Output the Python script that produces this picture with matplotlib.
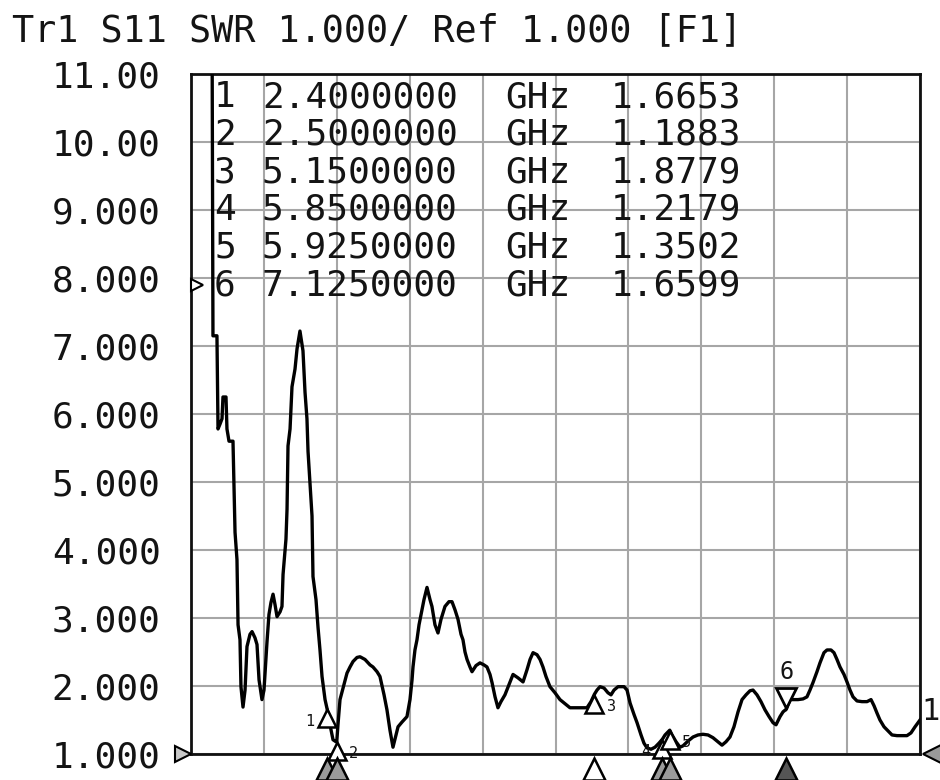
import matplotlib
matplotlib.use("Agg")
import matplotlib.pyplot as plt
from matplotlib.transforms import offset_copy

# ---------------- data ----------------
title_text = "Tr1 S11 SWR 1.000/ Ref 1.000 [F1]"

freq_ghz = [
    1.000, 1.216, 1.226, 1.267, 1.278, 1.298, 1.319, 1.329, 1.360, 1.370,
    1.391, 1.432, 1.453, 1.473, 1.484, 1.504, 1.514, 1.535, 1.556, 1.576,
    1.607, 1.628, 1.658, 1.679, 1.700, 1.730, 1.751, 1.782, 1.802, 1.823,
    1.844, 1.864, 1.885, 1.916, 1.936, 1.947, 1.977, 1.988, 1.998, 2.019,
    2.039, 2.070, 2.091, 2.121, 2.142, 2.152, 2.173, 2.193, 2.204, 2.235,
    2.245, 2.255, 2.286, 2.307, 2.327, 2.348, 2.379, 2.400, 2.430, 2.461,
    2.492, 2.500, 2.512, 2.533, 2.574, 2.605, 2.636, 2.667, 2.708, 2.739,
    2.790, 2.842, 2.872, 2.914, 2.944, 2.986, 3.016, 3.047, 3.078, 3.109,
    3.130, 3.171, 3.222, 3.253, 3.274, 3.284, 3.304, 3.325, 3.346, 3.376,
    3.397, 3.428, 3.459, 3.479, 3.510, 3.541, 3.572, 3.613, 3.654, 3.685,
    3.716, 3.747, 3.778, 3.798, 3.819, 3.840, 3.870, 3.891, 3.932, 3.973,
    4.014, 4.045, 4.076, 4.097, 4.128, 4.158, 4.189, 4.230, 4.272, 4.313,
    4.364, 4.416, 4.457, 4.488, 4.519, 4.560, 4.591, 4.621, 4.652, 4.693,
    4.745, 4.796, 4.848, 4.899, 4.951, 5.002, 5.074, 5.115, 5.150, 5.177,
    5.208, 5.249, 5.290, 5.321, 5.352, 5.393, 5.455, 5.486, 5.517, 5.558,
    5.589, 5.630, 5.660, 5.691, 5.733, 5.774, 5.815, 5.850, 5.877, 5.925,
    5.949, 5.990, 6.031, 6.062, 6.113, 6.165, 6.216, 6.267, 6.319, 6.370,
    6.421, 6.463, 6.504, 6.545, 6.586, 6.628, 6.669, 6.710, 6.751, 6.782,
    6.823, 6.864, 6.905, 6.947, 6.988, 7.019, 7.060, 7.091, 7.125, 7.162,
    7.204, 7.245, 7.296, 7.337, 7.368, 7.399, 7.440, 7.471, 7.512, 7.543,
    7.584, 7.615, 7.646, 7.677, 7.718, 7.749, 7.780, 7.811, 7.852, 7.903,
    7.955, 7.996, 8.027, 8.058, 8.088, 8.130, 8.171, 8.212, 8.263, 8.315,
    8.366, 8.407, 8.449, 8.479, 8.500,
]

swr_values = [
    12.5, 12.0, 7.15, 7.15, 5.78, 5.85, 5.93, 6.25, 6.25, 5.78,
    5.60, 5.60, 4.26, 3.86, 2.90, 2.68, 1.99, 1.69, 1.94, 2.58,
    2.76, 2.80, 2.71, 2.61, 2.09, 1.80, 1.94, 2.65, 3.05, 3.23,
    3.35, 3.20, 3.02, 3.09, 3.17, 3.64, 4.16, 4.60, 5.53, 5.78,
    6.40, 6.66, 6.96, 7.22, 7.03, 6.93, 6.32, 5.93, 5.45, 4.75,
    4.50, 3.61, 3.27, 2.86, 2.53, 2.14, 1.80, 1.665, 1.43, 1.21,
    1.18, 1.188, 1.43, 1.80, 2.02, 2.19, 2.28, 2.36, 2.42, 2.43,
    2.39, 2.31, 2.28, 2.21, 2.14, 1.87, 1.65, 1.35, 1.10, 1.28,
    1.40, 1.47, 1.55, 1.80, 2.09, 2.28, 2.53, 2.68, 2.90, 3.12,
    3.27, 3.45, 3.27, 3.17, 2.90, 2.78, 2.98, 3.17, 3.24, 3.24,
    3.12, 2.98, 2.76, 2.68, 2.50, 2.39, 2.28, 2.21, 2.30, 2.34,
    2.31, 2.28, 2.17, 2.05, 1.84, 1.68, 1.77, 1.87, 2.02, 2.17,
    2.12, 2.06, 2.24, 2.39, 2.49, 2.46, 2.39, 2.28, 2.14, 1.99,
    1.90, 1.80, 1.74, 1.68, 1.68, 1.68, 1.68, 1.77, 1.878, 1.94,
    1.99, 1.97, 1.90, 1.87, 1.94, 1.99, 1.99, 1.94, 1.75, 1.58,
    1.46, 1.28, 1.16, 1.09, 1.07, 1.10, 1.16, 1.218, 1.28, 1.350,
    1.28, 1.18, 1.10, 1.12, 1.19, 1.25, 1.28, 1.29, 1.28, 1.24,
    1.18, 1.13, 1.18, 1.25, 1.40, 1.62, 1.80, 1.87, 1.93, 1.94,
    1.87, 1.77, 1.65, 1.55, 1.46, 1.43, 1.55, 1.62, 1.660, 1.80,
    1.80, 1.80, 1.81, 1.84, 1.94, 2.05, 2.21, 2.34, 2.49, 2.53,
    2.53, 2.49, 2.39, 2.28, 2.17, 2.06, 1.94, 1.84, 1.78, 1.77,
    1.77, 1.80, 1.71, 1.60, 1.50, 1.40, 1.34, 1.28, 1.27, 1.27,
    1.27, 1.31, 1.40, 1.46, 1.50,
]
assert len(freq_ghz) == len(swr_values), (len(freq_ghz), len(swr_values))

marker_ids = [1, 2, 3, 4, 5, 6]
marker_freq_ghz = [2.4, 2.5, 5.15, 5.85, 5.925, 7.125]
marker_swr = [1.6653, 1.1883, 1.8779, 1.2179, 1.3502, 1.6599]
marker_freq_text = ["2.4000000", "2.5000000", "5.1500000", "5.8500000", "5.9250000", "7.1250000"]
marker_swr_text = ["1.6653", "1.1883", "1.8779", "1.2179", "1.3502", "1.6599"]
active_marker = 6

y_ticks = [1, 2, 3, 4, 5, 6, 7, 8, 9, 10, 11]
y_tick_labels = ["1.000", "2.000", "3.000", "4.000", "5.000", "6.000",
                 "7.000", "8.000", "9.000", "10.00", "11.00"]
x_start, x_stop, x_divisions = 1.0, 8.5, 10

# ---------------- figure ----------------
W, H = 940, 780
fig = plt.figure(figsize=(W / 100, H / 100), dpi=100)
fig.patch.set_facecolor("white")
MONO = "DejaVu Sans Mono"
TXT = "#141414"
FS = 26


def fx(px):
    return px / W


def fy(py):
    return 1 - py / H


L, R, T, B = 191, 920, 74, 754
ax = fig.add_axes([fx(L), fy(B), (R - L) / W, (B - T) / H])
ax.set_xlim(x_start, x_stop)
ax.set_ylim(y_ticks[0], y_ticks[-1])
step = (x_stop - x_start) / x_divisions
ax.set_xticks([x_start + i * step for i in range(x_divisions + 1)])
ax.set_xticklabels([])
ax.set_yticks(y_ticks)
ax.set_yticklabels(y_tick_labels, family=MONO, fontsize=FS, color=TXT)
ax.tick_params(axis="both", length=0, pad=22)
ax.grid(True, color="#a6a6a6", lw=1.5)
ax.set_axisbelow(True)
for sp in ax.spines.values():
    sp.set_linewidth(2.0)
    sp.set_color("#101010")

# trace
ax.plot(freq_ghz, swr_values, color="#000000", lw=2.4, zorder=3)

# marker flags on the trace
side_offsets = {1: (-9, "right"), 2: (9, "left"), 3: (9, "left"),
                4: (-9, "right"), 5: (9, "left")}
for mid, mf, ms_ in zip(marker_ids, marker_freq_ghz, marker_swr):
    if mid == active_marker:
        tr = offset_copy(ax.transData, fig=fig, x=0, y=8, units="points")
        ax.plot([mf], [ms_], marker="v", ms=15, mfc="white", mec="black",
                mew=2.0, transform=tr, zorder=5, clip_on=False)
        trt = offset_copy(ax.transData, fig=fig, x=0, y=27, units="points")
        ax.text(mf, ms_, str(mid), transform=trt, ha="center", va="center",
                family=MONO, fontsize=17, color=TXT, zorder=6)
    else:
        tr = offset_copy(ax.transData, fig=fig, x=0, y=-7, units="points")
        ax.plot([mf], [ms_], marker="^", ms=13, mfc="white", mec="black",
                mew=1.8, transform=tr, zorder=4, clip_on=False)
        dx, ha = side_offsets[mid]
        trt = offset_copy(ax.transData, fig=fig, x=dx, y=-9, units="points")
        ax.text(mf, ms_, str(mid), transform=trt, ha=ha, va="center",
                family=MONO, fontsize=11, color=TXT, zorder=4)

# marker triangles below the x axis
for mid, mf in zip(marker_ids, marker_freq_ghz):
    trb = offset_copy(ax.transData, fig=fig, x=0, y=-11, units="points")
    if mid == active_marker:
        face = "#555555"
    elif mid == 3:
        face = "white"
    else:
        face = "#9a9a9a"
    ax.plot([mf], [y_ticks[0]], marker="^", ms=16, mfc=face, mec="black",
            mew=1.8, transform=trb, zorder=6, clip_on=False)

# reference level indicators
trl = offset_copy(ax.transData, fig=fig, x=-6, y=0, units="points")
ax.plot([x_start], [y_ticks[0]], marker=">", ms=11, mfc="#c8c8c8", mec="black",
        mew=1.5, transform=trl, clip_on=False, zorder=6)
trr = offset_copy(ax.transData, fig=fig, x=10, y=0, units="points")
ax.plot([x_stop], [y_ticks[0]], marker="<", ms=16, mfc="#9a9a9a", mec="black",
        mew=1.5, transform=trr, clip_on=False, zorder=6)

# title
fig.text(fx(12), fy(31), title_text, family=MONO, fontsize=26.5, color=TXT,
         ha="left", va="center")

# marker table
row_y = [97, 134.6, 172.2, 209.8, 247.4, 285]
for mid, ftxt, vtxt, yy in zip(marker_ids, marker_freq_text, marker_swr_text, row_y):
    fig.text(fx(225), fy(yy), str(mid), family=MONO, fontsize=FS, color=TXT,
             ha="center", va="center", zorder=7)
    fig.text(fx(262), fy(yy), ftxt, family=MONO, fontsize=FS, color=TXT,
             ha="left", va="center")
    fig.text(fx(505), fy(yy), "GHz", family=MONO, fontsize=FS, color=TXT,
             ha="left", va="center")
    fig.text(fx(611), fy(yy), vtxt, family=MONO, fontsize=FS, color=TXT,
             ha="left", va="center")
    if mid == active_marker:
        fig.lines.append(plt.Line2D([fx(197)], [fy(yy)], marker=">", ms=8,
                                    mfc="white", mec="black", mew=1.5,
                                    transform=fig.transFigure, zorder=8))

# channel reference tag at right edge
fig.text(fx(921), fy(711), "1", family=MONO, fontsize=22, color=TXT,
         ha="left", va="center")

fig.savefig("out.png", dpi=100, facecolor="white")
